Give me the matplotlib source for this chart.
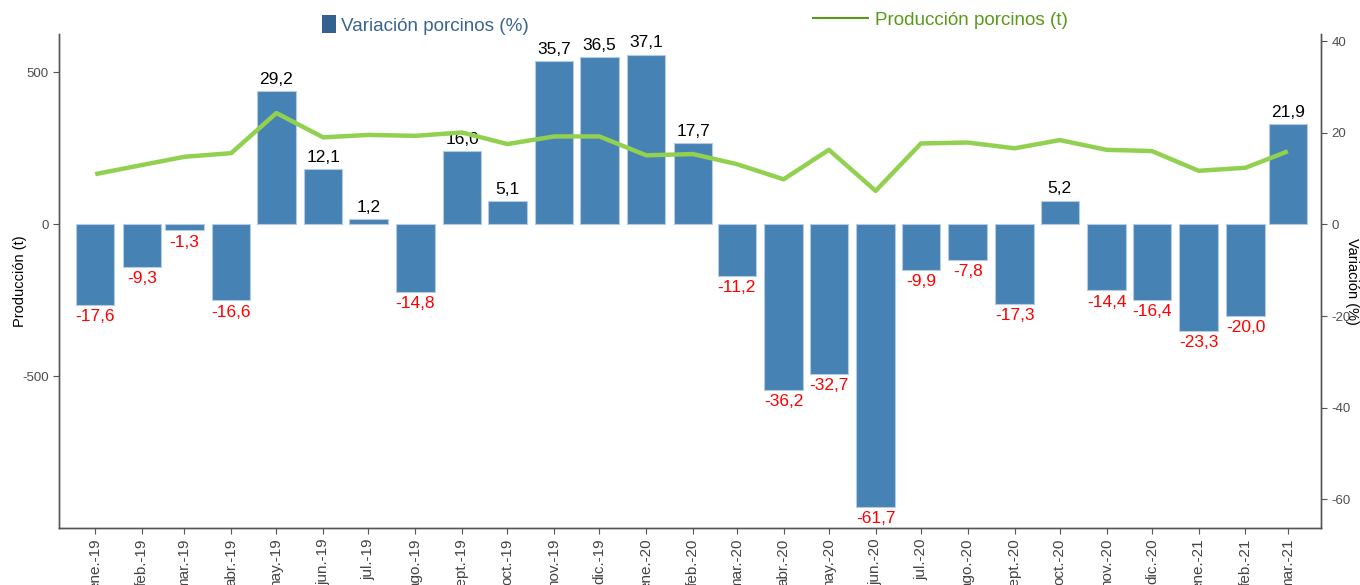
import matplotlib
matplotlib.use("Agg")
import matplotlib.pyplot as plt
from matplotlib.patches import Patch
from matplotlib.lines import Line2D
import pandas as pd

plt.rcParams['font.family'] = ['Liberation Sans', 'DejaVu Sans']
plt.rcParams['axes.unicode_minus'] = False

months = ["2019-01-01", "2019-02-01", "2019-03-01", "2019-04-01", "2019-05-01", "2019-06-01",
          "2019-07-01", "2019-08-01", "2019-09-01", "2019-10-01", "2019-11-01", "2019-12-01",
          "2020-01-01", "2020-02-01", "2020-03-01", "2020-04-01", "2020-05-01", "2020-06-01",
          "2020-07-01", "2020-08-01", "2020-09-01", "2020-10-01", "2020-11-01", "2020-12-01",
          "2021-01-01", "2021-02-01", "2021-03-01"]
tick_labels = ["ene.-19", "feb.-19", "mar.-19", "abr.-19", "may.-19", "jun.-19", "jul.-19",
               "ago.-19", "sept.-19", "oct.-19", "nov.-19", "dic.-19", "ene.-20", "feb.-20",
               "mar.-20", "abr.-20", "may.-20", "jun.-20", "jul.-20", "ago.-20", "sept.-20",
               "oct.-20", "nov.-20", "dic.-20", "ene.-21", "feb.-21", "mar.-21"]
variacion = [-17.6, -9.3, -1.3, -16.6, 29.2, 12.1, 1.2, -14.8, 16.0, 5.1, 35.7, 36.5,
             37.1, 17.7, -11.2, -36.2, -32.7, -61.7, -9.9, -7.8, -17.3, 5.2, -14.4, -16.4,
             -23.3, -20.0, 21.9]
produccion = [165, 195, 222, 234, 366, 286, 294, 291, 302, 264, 289, 289,
              227, 231, 198, 148, 245, 110, 266, 269, 250, 277, 245, 241,
              176, 186, 240]

dates = pd.to_datetime(months)

fig = plt.figure(figsize=(13.6, 5.85), dpi=100)
ax = fig.add_axes([0.0434, 0.0974, 0.9279, 0.8445])
ax2 = ax.twinx()

bar_color = "#4682B4"
line_color = "#92D050"
ax2.bar(dates, variacion, width=25.5, color=bar_color, edgecolor="#b4cbe3", linewidth=0.8)
for d, v in zip(dates, variacion):
    txt = f"{v:.1f}".replace(".", ",")
    if v >= 0:
        ax2.annotate(txt, (d, v), xytext=(0, 3), textcoords="offset points",
                     ha="center", va="bottom", fontsize=12.5, color="black")
    else:
        ax2.annotate(txt, (d, v), xytext=(0, -3), textcoords="offset points",
                     ha="center", va="top", fontsize=12.5, color="red")

ax.plot(dates, produccion, color=line_color, linewidth=3.2, solid_capstyle="butt")
ax.set_zorder(ax2.get_zorder() + 1)
ax.patch.set_visible(False)

ax.set_ylim(-999, 626)
ax2.set_ylim(-66.3, 41.6)
ax.set_yticks([-500, 0, 500])
ax2.set_yticks([-60, -40, -20, 0, 20, 40])
ax.set_xlim(pd.Timestamp("2018-12-08"), pd.Timestamp("2021-03-23"))
ax.set_xticks(dates)
ax.set_xticklabels(tick_labels, rotation=90, fontsize=11, color="#444444")

spine_color = "#555555"
for a in (ax, ax2):
    a.spines["top"].set_visible(False)
    for s in ("left", "right", "bottom"):
        a.spines[s].set_color(spine_color)
        a.spines[s].set_linewidth(1.0)
    a.tick_params(axis="both", colors=spine_color, labelcolor="#4d4d4d", labelsize=9.5, length=4)
ax.tick_params(axis="x", labelcolor="#444444", labelsize=11)

ax.set_ylabel("Producción (t)", fontsize=10.5, color="black")
ax.yaxis.set_label_coords(-0.0254, 0.5)
ax2.set_ylabel("Variación (%)", fontsize=10.5, color="black", rotation=-90, va="center")
ax2.yaxis.set_label_coords(1.0246, 0.5)

h1 = [Patch(facecolor="#34618f", edgecolor="none")]
fig.legend(h1, ["Variación porcinos (%)"], loc="center left",
           bbox_to_anchor=(322 / 1360, 1 - 25 / 585), frameon=False, borderpad=0,
           borderaxespad=0, fontsize=13.6, handlelength=0.74, handleheight=1.05,
           handletextpad=0.27, labelcolor="#3a6592")
h2 = [Line2D([0], [0], color="#5a9a1a", linewidth=1.5)]
fig.legend(h2, ["Producción porcinos (t)"], loc="center left",
           bbox_to_anchor=(813 / 1360, 1 - 20 / 585), frameon=False, borderpad=0,
           borderaxespad=0, fontsize=13.6, handlelength=2.9, handletextpad=0.37,
           labelcolor="#5a9a1a")

fig.savefig("out.png", dpi=100)
